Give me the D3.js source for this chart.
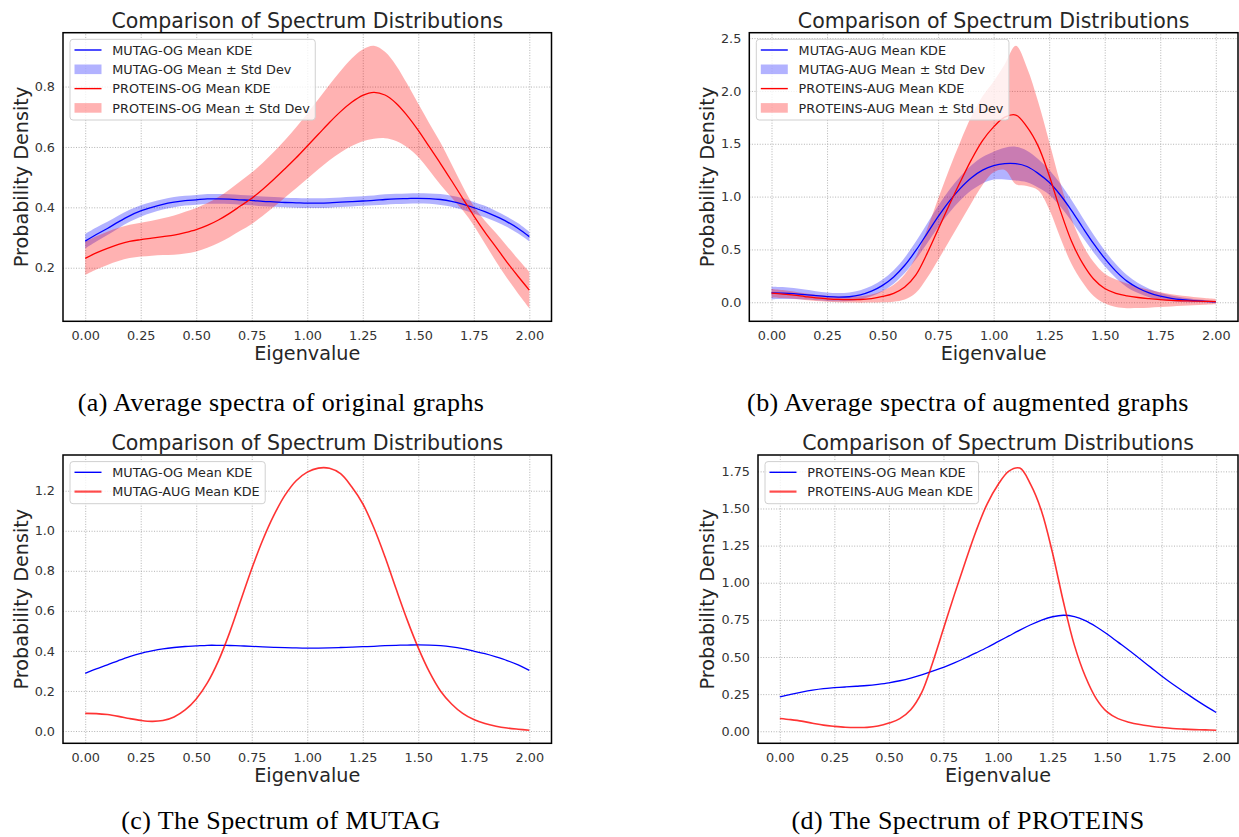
<!DOCTYPE html>
<html>
<head>
<meta charset="utf-8">
<script src="https://cdn.jsdelivr.net/npm/d3@7"></script>
<style>
  body { margin: 0; background: #fff; }
  svg { display: block; }
</style>
</head>
<body>
<svg id="fig" width="1239" height="837"></svg>
<script>
// eigenvalue grid shared by every KDE curve
const eigenvalues = [0.00,0.05,0.10,0.15,0.20,0.25,0.30,0.35,0.40,0.45,0.50,0.55,0.60,0.65,0.70,0.75,0.80,0.85,0.90,0.95,
  1.00,1.05,1.10,1.15,1.20,1.25,1.30,1.35,1.40,1.45,1.50,1.55,1.60,1.65,1.70,1.75,1.80,1.85,1.90,1.95,2.00];

const mutagOgMean = [0.288,0.310,0.330,0.352,0.372,0.388,0.400,0.410,0.417,0.422,0.425,0.428,0.428,0.427,0.425,0.423,0.420,0.418,0.416,0.415,
  0.414,0.414,0.415,0.417,0.419,0.421,0.423,0.426,0.428,0.429,0.430,0.429,0.426,0.420,0.411,0.399,0.386,0.370,0.352,0.330,0.303];
const mutagOgStd = [0.024,0.023,0.022,0.021,0.020,0.019,0.018,0.017,0.017,0.016,0.016,0.016,0.016,0.016,0.016,0.016,0.016,0.016,0.016,0.016,
  0.016,0.016,0.016,0.016,0.016,0.016,0.016,0.017,0.017,0.017,0.017,0.017,0.018,0.018,0.019,0.019,0.019,0.018,0.017,0.017,0.016];

const proteinsOgMean = [0.231,0.249,0.264,0.277,0.287,0.293,0.298,0.303,0.308,0.316,0.326,0.340,0.358,0.380,0.405,0.430,0.460,0.493,0.528,0.564,
  0.603,0.642,0.681,0.717,0.748,0.771,0.781,0.772,0.745,0.704,0.655,0.600,0.545,0.488,0.430,0.372,0.318,0.268,0.218,0.171,0.126];
const proteinsOgStd = [0.055,0.055,0.055,0.055,0.055,0.056,0.058,0.061,0.065,0.069,0.072,0.074,0.076,0.079,0.082,0.085,0.088,0.091,0.095,0.101,
  0.108,0.116,0.125,0.135,0.145,0.152,0.154,0.143,0.125,0.105,0.088,0.078,0.070,0.055,0.040,0.032,0.038,0.047,0.053,0.057,0.060];

const mutagAugMean = [0.088,0.087,0.082,0.073,0.062,0.053,0.048,0.052,0.070,0.105,0.160,0.240,0.350,0.490,0.650,0.810,0.955,1.078,1.178,1.250,
  1.293,1.313,1.312,1.285,1.220,1.135,1.015,0.870,0.710,0.555,0.415,0.295,0.200,0.135,0.088,0.057,0.037,0.024,0.015,0.009,0.004];
const mutagAugStd = [0.060,0.057,0.052,0.047,0.043,0.040,0.039,0.040,0.043,0.048,0.055,0.064,0.074,0.084,0.093,0.100,0.107,0.113,0.119,0.125,
  0.132,0.150,0.160,0.150,0.135,0.118,0.108,0.100,0.092,0.083,0.075,0.066,0.057,0.048,0.040,0.034,0.027,0.021,0.016,0.012,0.009];

const proteinsAugMean = [0.086,0.078,0.068,0.054,0.041,0.033,0.027,0.025,0.026,0.035,0.055,0.085,0.145,0.260,0.460,0.690,0.920,1.140,1.350,1.530,
  1.660,1.752,1.772,1.660,1.480,1.200,0.870,0.580,0.370,0.220,0.130,0.085,0.061,0.045,0.034,0.025,0.018,0.014,0.011,0.009,0.007];
const proteinsAugStd = [0.040,0.038,0.035,0.032,0.030,0.028,0.027,0.028,0.030,0.038,0.055,0.080,0.120,0.170,0.230,0.290,0.340,0.380,0.410,0.420,
  0.430,0.500,0.655,0.560,0.420,0.320,0.260,0.215,0.180,0.160,0.140,0.130,0.117,0.100,0.085,0.070,0.058,0.048,0.040,0.032,0.025];

const xTicks = [0, 0.25, 0.5, 0.75, 1, 1.25, 1.5, 1.75, 2];
const xTickLabels = ['0.00','0.25','0.50','0.75','1.00','1.25','1.50','1.75','2.00'];
const yTicksA = [0.2, 0.4, 0.6, 0.8];
const yTickLabelsA = ['0.2','0.4','0.6','0.8'];
const yTicksB = [0, 0.5, 1, 1.5, 2, 2.5];
const yTickLabelsB = ['0.0','0.5','1.0','1.5','2.0','2.5'];
const yTicksC = [0, 0.2, 0.4, 0.6, 0.8, 1.0, 1.2];
const yTickLabelsC = ['0.0','0.2','0.4','0.6','0.8','1.0','1.2'];
const yTicksD = [0, 0.25, 0.5, 0.75, 1.0, 1.25, 1.5, 1.75];
const yTickLabelsD = ['0.00','0.25','0.50','0.75','1.00','1.25','1.50','1.75'];

const BLUE = '#0000ff';
const RED = '#ff0000';
const SANS = 'DejaVu Sans, sans-serif';
const SERIF = 'Liberation Serif, Times New Roman, serif';

const panels = [
  { frame: [63, 32.7, 551.5, 321.3], ylabX: 21.5, band: true,
    caption: '(a) Average spectra of original graphs', capX: 281, capY: 411,
    yTicks: yTicksA, yLabels: yTickLabelsA,
    series: [
      { name: 'MUTAG-OG', mean: mutagOgMean, std: mutagOgStd, color: BLUE },
      { name: 'PROTEINS-OG', mean: proteinsOgMean, std: proteinsOgStd, color: RED }
    ] },
  { frame: [749.3, 32.7, 1238, 321.3], ylabX: 707.5, band: true,
    caption: '(b) Average spectra of augmented graphs', capX: 968, capY: 411,
    yTicks: yTicksB, yLabels: yTickLabelsB,
    series: [
      { name: 'MUTAG-AUG', mean: mutagAugMean, std: mutagAugStd, color: BLUE },
      { name: 'PROTEINS-AUG', mean: proteinsAugMean, std: proteinsAugStd, color: RED }
    ] },
  { frame: [63, 455, 551.5, 743.3], ylabX: 21.5, band: false,
    caption: '(c) The Spectrum of MUTAG', capX: 281, capY: 829,
    yTicks: yTicksC, yLabels: yTickLabelsC,
    series: [
      { name: 'MUTAG-OG', mean: mutagOgMean, color: BLUE },
      { name: 'MUTAG-AUG', mean: mutagAugMean, color: RED }
    ] },
  { frame: [758, 455, 1238, 743.3], ylabX: 707.5, band: false,
    caption: '(d) The Spectrum of PROTEINS', capX: 968, capY: 829,
    yTicks: yTicksD, yLabels: yTickLabelsD,
    series: [
      { name: 'PROTEINS-OG', mean: proteinsOgMean, color: BLUE },
      { name: 'PROTEINS-AUG', mean: proteinsAugMean, color: RED }
    ] }
];

const svg = d3.select('#fig');

function drawPanel(p) {
  const [L, T, R, B] = p.frame;
  const g = svg.append('g');

  const x = d3.scaleLinear().domain([-0.1, 2.1]).range([L, R]);

  // matplotlib-style autoscale: data extent plus 5% margin
  let lo = Infinity, hi = -Infinity;
  p.series.forEach(s => s.mean.forEach((m, i) => {
    const sd = p.band ? s.std[i] : 0;
    lo = Math.min(lo, m - sd);
    hi = Math.max(hi, m + sd);
  }));
  const pad = (hi - lo) * 0.05;
  const y = d3.scaleLinear().domain([lo - pad, hi + pad]).range([B, T]);

  // grid
  const gx = g.append('g').attr('transform', `translate(0,${B})`)
    .call(d3.axisBottom(x).tickValues(xTicks).tickSize(-(B - T)).tickFormat(''));
  const gy = g.append('g').attr('transform', `translate(${L},0)`)
    .call(d3.axisLeft(y).tickValues(p.yTicks).tickSize(-(R - L)).tickFormat(''));
  [gx, gy].forEach(a => {
    a.select('.domain').remove();
    a.selectAll('line').attr('stroke', '#aaaaaa').attr('stroke-width', 0.9)
      .attr('stroke-dasharray', '1,1.6');
  });

  const curve = d3.curveCatmullRom;

  // bands first, then lines (fill_between sits under lines)
  if (p.band) {
    p.series.forEach(s => {
      const pts = eigenvalues.map((e, i) => ({ e, m: s.mean[i], sd: s.std[i] }));
      g.append('path')
        .datum(pts)
        .attr('d', d3.area().curve(curve)
          .x(d => x(d.e)).y0(d => y(d.m - d.sd)).y1(d => y(d.m + d.sd)))
        .attr('fill', s.color)
        .attr('fill-opacity', 0.3)
        .attr('stroke', 'none');
    });
  }

  p.series.forEach((s, k) => {
    const pts = eigenvalues.map((e, i) => ({ e, m: s.mean[i] }));
    const thick = !p.band && k === 1;
    g.append('path')
      .datum(pts)
      .attr('d', d3.line().curve(curve).x(d => x(d.e)).y(d => y(d.m)))
      .attr('fill', 'none')
      .attr('stroke', s.color)
      .attr('stroke-opacity', thick ? 0.8 : 1)
      .attr('stroke-width', thick ? 1.6 : 1.3);
  });

  // frame
  g.append('rect')
    .attr('x', L).attr('y', T).attr('width', R - L).attr('height', B - T)
    .attr('fill', 'none').attr('stroke', '#000').attr('stroke-width', 1.5);

  // tick labels
  const ax = g.append('g').attr('transform', `translate(0,${B})`)
    .call(d3.axisBottom(x).tickValues(xTicks).tickSize(0).tickPadding(9.6)
      .tickFormat((d, i) => xTickLabels[i]));
  const ay = g.append('g').attr('transform', `translate(${L},0)`)
    .call(d3.axisLeft(y).tickValues(p.yTicks).tickSize(0).tickPadding(8)
      .tickFormat((d, i) => p.yLabels[i]));
  [ax, ay].forEach(a => {
    a.select('.domain').remove();
    a.selectAll('text').attr('fill', '#333').style('font-family', SANS).style('font-size', '12.8px');
  });

  // title and axis labels
  g.append('text')
    .attr('x', (L + R) / 2).attr('y', T - 5)
    .attr('text-anchor', 'middle')
    .style('font-family', SANS).style('font-size', '20.5px').attr('fill', '#262626')
    .text('Comparison of Spectrum Distributions');

  g.append('text')
    .attr('x', (L + R) / 2).attr('y', B + 38.7)
    .attr('text-anchor', 'middle')
    .style('font-family', SANS).style('font-size', '19.2px').attr('fill', '#262626')
    .text('Eigenvalue');

  g.append('text')
    .attr('transform', `translate(${p.ylabX},${(T + B) / 2}) rotate(-90)`)
    .attr('dy', '0.35em')
    .attr('text-anchor', 'middle')
    .style('font-family', SANS).style('font-size', '19.2px').attr('fill', '#262626')
    .text('Probability Density');

  // legend
  const entries = [];
  p.series.forEach((s, k) => {
    entries.push({ kind: 'line', color: s.color, label: `${s.name} Mean KDE`, thick: !p.band && k === 1 });
    if (p.band) entries.push({ kind: 'band', color: s.color, label: `${s.name} Mean \u00b1 Std Dev` });
  });

  const bx = L + 7, by = T + 6.6, row = 19.3;
  const lg = g.append('g');
  const box = lg.append('rect')
    .attr('x', bx).attr('y', by).attr('rx', 3).attr('ry', 3)
    .attr('height', 10.7 + (entries.length - 1) * row + 12.1)
    .attr('fill', '#fff').attr('fill-opacity', 0.8)
    .attr('stroke', '#d0d0d0').attr('stroke-width', 1);

  let maxW = 0;
  entries.forEach((en, i) => {
    const cy = by + 10.7 + i * row;
    if (en.kind === 'line') {
      lg.append('line')
        .attr('x1', bx + 4.5).attr('x2', bx + 31.5).attr('y1', cy).attr('y2', cy)
        .attr('stroke', en.color)
        .attr('stroke-opacity', en.thick ? 0.7 : 1)
        .attr('stroke-width', en.thick ? 2.2 : 1.4);
    } else {
      lg.append('rect')
        .attr('x', bx + 4.5).attr('y', cy - 4.8).attr('width', 27).attr('height', 9.6)
        .attr('fill', en.color).attr('fill-opacity', 0.3);
    }
    const t = lg.append('text')
      .attr('x', bx + 42.3).attr('y', cy).attr('dy', '0.36em')
      .style('font-family', SANS).style('font-size', '12.8px').attr('fill', '#262626')
      .text(en.label);
    maxW = Math.max(maxW, t.node().getComputedTextLength());
  });
  box.attr('width', 42.3 + maxW + 5.5);

  // caption below the figure
  svg.append('text')
    .attr('x', p.capX).attr('y', p.capY)
    .attr('text-anchor', 'middle')
    .style('font-family', SERIF).style('font-size', '26px').style('letter-spacing', '0.4px')
    .attr('fill', '#000')
    .text(p.caption);
}

panels.forEach(drawPanel);
</script>
</body>
</html>
